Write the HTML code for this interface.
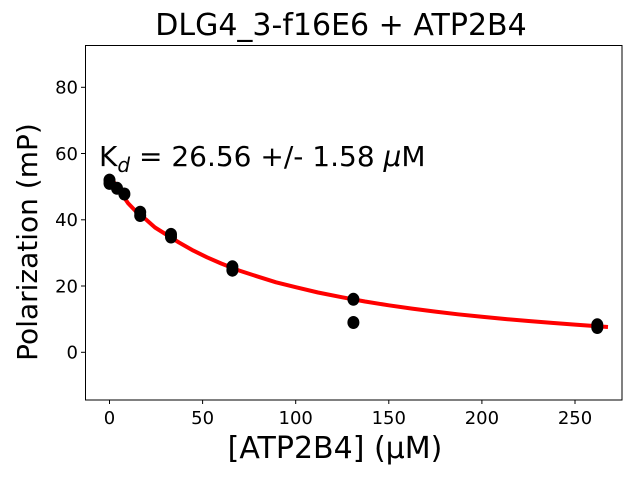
<!DOCTYPE html>
<html><head><meta charset="utf-8"><style>body{margin:0;background:#fff}svg{display:block}text{font-family:"DejaVu Sans","Liberation Sans",sans-serif;fill:#000}</style></head><body>
<svg width="640" height="480" viewBox="0 0 640 480">
<rect width="640" height="480" fill="#fff"/>
<path d="M110.5,177 L119,190 L128.1,203.2 L137,212.5 L146.7,220.1 L155,227.5 L165.4,234 L179,242.5 L193.3,250.6 L207,257.3 L221.2,263.5 L239,270.5 L258.5,276.8 L276,282.3 L295.7,287.2 L318,292.5 L342.3,297.3 L365,301.5 L388.8,305.3 L412,308.6 L435.4,311.6 L458,314.3 L481.9,316.7 L505,319 L528.5,321 L552,322.9 L575,324.6 L608,327" fill="none" stroke="#f00" stroke-width="4" stroke-linejoin="round"/>
<g fill="#000">
<ellipse cx="109.5" cy="180.1" rx="6" ry="6.5"/><ellipse cx="109.5" cy="183.4" rx="6" ry="6.5"/>
<ellipse cx="117" cy="188.3" rx="6" ry="6.5"/><ellipse cx="124.4" cy="194" rx="6" ry="6.5"/>
<ellipse cx="140.2" cy="212.2" rx="6" ry="6.5"/><ellipse cx="140.2" cy="215.5" rx="6" ry="6.5"/>
<ellipse cx="171" cy="234.4" rx="6" ry="6.5"/><ellipse cx="171" cy="237" rx="6" ry="6.5"/>
<ellipse cx="232.4" cy="266.8" rx="6" ry="6.5"/><ellipse cx="232.4" cy="270.2" rx="6" ry="6.5"/>
<ellipse cx="353.4" cy="299.3" rx="6" ry="6.5"/><ellipse cx="353.4" cy="322.5" rx="6" ry="6.5"/>
<ellipse cx="597.3" cy="324.8" rx="6" ry="6.5"/><ellipse cx="597.3" cy="327.5" rx="6" ry="6.5"/>
</g>
<rect x="85.5" y="45.5" width="536.5" height="354.5" fill="none" stroke="#000" stroke-width="1"/>
<g stroke="#000" stroke-width="1">
<line x1="109.5" y1="400" x2="109.5" y2="404"/><line x1="202.6" y1="400" x2="202.6" y2="404"/><line x1="295.7" y1="400" x2="295.7" y2="404"/><line x1="388.8" y1="400" x2="388.8" y2="404"/><line x1="481.9" y1="400" x2="481.9" y2="404"/><line x1="575" y1="400" x2="575" y2="404"/>
<line x1="81" y1="352.3" x2="85.5" y2="352.3"/><line x1="81" y1="286" x2="85.5" y2="286"/><line x1="81" y1="219.8" x2="85.5" y2="219.8"/><line x1="81" y1="153.5" x2="85.5" y2="153.5"/><line x1="81" y1="87.3" x2="85.5" y2="87.3"/>
</g>
<g font-size="18" text-anchor="middle">
<text x="109.5" y="424">0</text><text x="202.6" y="424">50</text><text x="295.7" y="424">100</text><text x="388.8" y="424">150</text><text x="481.9" y="424">200</text><text x="575" y="424">250</text>
</g>
<g font-size="18" text-anchor="end">
<text x="78" y="358.5">0</text><text x="78" y="292.5">20</text><text x="78" y="226">40</text><text x="78" y="160">60</text><text x="78" y="93.5">80</text>
</g>
<text x="341" y="35" font-size="30" text-anchor="middle">DLG4_3-f16E6 + ATP2B4</text>
<text x="335" y="458" font-size="30" text-anchor="middle">[ATP2B4] (μM)</text>
<text transform="translate(37,242) rotate(-90)" font-size="28" text-anchor="middle">Polarization (mP)</text>
<text x="99" y="166" font-size="28">K<tspan font-size="20" dy="6" font-style="italic">d</tspan><tspan dy="-6"> = 26.56 +/- 1.58 </tspan><tspan font-style="italic">μ</tspan>M</text>
</svg>
</body></html>
